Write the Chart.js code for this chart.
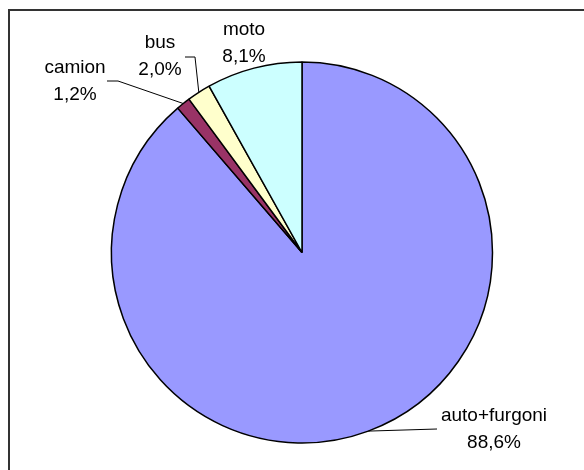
<!DOCTYPE html>
<html>
<head>
<meta charset="utf-8">
<script src="https://cdn.jsdelivr.net/npm/chart.js@4.4.1/dist/chart.umd.min.js"></script>
<style>
  html, body { margin: 0; padding: 0; background: #fff; }
  #wrap { width: 584px; height: 470px; }
</style>
</head>
<body>
<div id="wrap"><canvas id="pieChart" width="584" height="470"></canvas></div>
<script>
// vehicle shares (percent), clockwise from 12 o'clock
const categories = ["auto+furgoni", "camion", "bus", "moto"];
const shares = [88.6, 1.2, 2.0, 8.1];
const sliceColors = ["#9999FF", "#993366", "#FFFFCC", "#CCFFFF"];

// label placement: text centre x, first baseline y, leader elbow / end
const labelSpots = [
    { x: 494, y: 421, elbow: null, end: [437, 429] },
    { x: 75, y: 73, elbow: [118, 81], end: [107, 81] },
    { x: 160, y: 48, elbow: [195, 57], end: [185, 57] },
    { x: 244, y: 35, elbow: null, end: null },
];

const frame = {
    id: "frame",
    beforeDraw(chart) {
        const ctx = chart.ctx;
        ctx.save();
        ctx.strokeStyle = "#333";
        ctx.lineWidth = 2;
        ctx.beginPath();
        ctx.moveTo(9, chart.height);
        ctx.lineTo(9, 10);
        ctx.lineTo(chart.width, 10);
        ctx.stroke();
        ctx.restore();
    },
};

const sliceLabels = {
    id: "sliceLabels",
    afterDraw(chart) {
        const ctx = chart.ctx;
        const meta = chart.getDatasetMeta(0);
        ctx.save();
        ctx.font = "19px 'Liberation Sans', Arial, sans-serif";
        ctx.fillStyle = "#000";
        ctx.textAlign = "center";
        ctx.textBaseline = "alphabetic";
        meta.data.forEach(function (arc, i) {
            const spot = labelSpots[i];
            const p = arc.getProps(["x", "y", "startAngle", "endAngle", "outerRadius"], true);
            const mid = (p.startAngle + p.endAngle) / 2;
            if (spot.end) {
                ctx.strokeStyle = "#000";
                ctx.lineWidth = 1;
                ctx.beginPath();
                ctx.moveTo(p.x + Math.cos(mid) * p.outerRadius, p.y + Math.sin(mid) * p.outerRadius);
                if (spot.elbow) ctx.lineTo(spot.elbow[0], spot.elbow[1]);
                ctx.lineTo(spot.end[0], spot.end[1]);
                ctx.stroke();
            }
            const pct = shares[i].toFixed(1).replace(".", ",") + "%";
            ctx.fillText(categories[i], spot.x, spot.y);
            ctx.fillText(pct, spot.x, spot.y + 26.5);
        });
        ctx.restore();
    },
};

new Chart(document.getElementById("pieChart"), {
    type: "pie",
    data: {
        labels: categories,
        datasets: [
            {
                data: shares,
                backgroundColor: sliceColors,
                borderColor: "#000",
                borderWidth: 1.5,
                radius: 190.5,
            },
        ],
    },
    options: {
        responsive: false,
        animation: false,
        layout: {
            padding: { left: 111.5, right: 91.5, top: 62, bottom: 27 },
        },
        plugins: {
            legend: { display: false },
            tooltip: { enabled: false },
        },
    },
    plugins: [frame, sliceLabels],
});
</script>
</body>
</html>
